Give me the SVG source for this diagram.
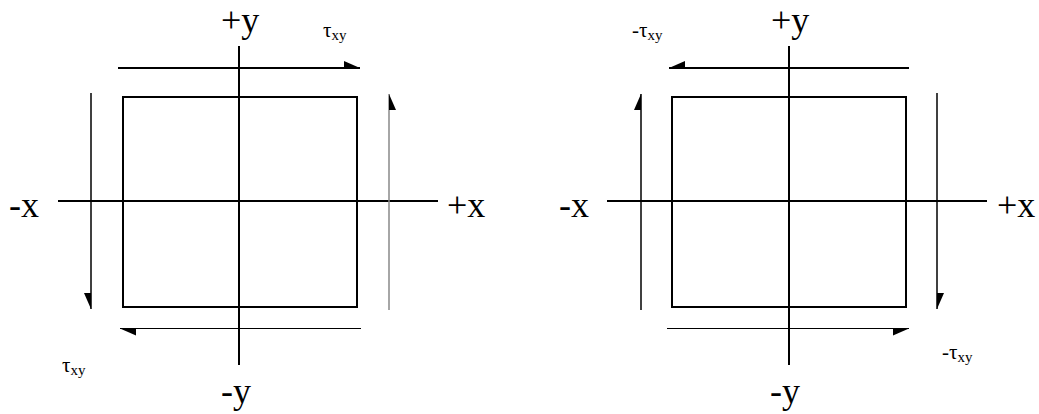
<svg xmlns="http://www.w3.org/2000/svg" width="1039" height="414" viewBox="0 0 1039 414">
  <style>
    .ax { stroke: #000; stroke-width: 2; fill: none; }
    .box { stroke: #000; stroke-width: 2; fill: none; }
    .ar2 { stroke: #000; stroke-width: 2; fill: none; }
    .ar15 { stroke: #000; stroke-width: 1.5; fill: none; }
    .ar1 { stroke: #000; stroke-width: 1; fill: none; }
    .gray { stroke: #888; stroke-width: 1.5; fill: none; }
    .big { font-family: "Liberation Serif", "Times New Roman", serif; font-size: 36px; fill: #000; }
    .tau { font-family: "Liberation Serif", "Times New Roman", serif; font-size: 21px; fill: #000; }
    .sub { font-size: 15px; }
  </style>
  <defs>
    <marker id="halfL" markerUnits="userSpaceOnUse" viewBox="-18 -9 20 18" markerWidth="20" markerHeight="18" refX="0" refY="0" orient="auto">
      <polygon points="0,0 -16,-7 -16,0" fill="#000"/>
    </marker>
    <marker id="halfR" markerUnits="userSpaceOnUse" viewBox="-18 -9 20 18" markerWidth="20" markerHeight="18" refX="0" refY="0" orient="auto">
      <polygon points="0,0 -16,7 -16,0" fill="#000"/>
    </marker>
  </defs>

  <!-- Left element -->
  <g id="left-element">
    <g id="left-box"><rect class="box" x="123" y="97" width="234" height="210"/></g>
    <g id="left-axes">
      <line class="ax" x1="58" y1="201" x2="438" y2="201"/>
      <line class="ax" x1="239" y1="46" x2="239" y2="365"/>
    </g>
    <g id="left-labels">
      <text class="big" x="221" y="32">+y</text>
      <text class="big" x="9" y="217">-x</text>
      <text class="big" x="447" y="217">+x</text>
      <text class="big" x="221" y="403">-y</text>
      <text class="tau" x="323" y="37">τ<tspan class="sub" dy="3">xy</tspan></text>
      <text class="tau" x="62" y="372">τ<tspan class="sub" dy="3">xy</tspan></text>
    </g>
  </g>

  <!-- Right element -->
  <g id="right-element">
    <g id="right-box"><rect class="box" x="672" y="97" width="234" height="210"/></g>
    <g id="right-axes">
      <line class="ax" x1="607" y1="201" x2="987" y2="201"/>
      <line class="ax" x1="789" y1="46" x2="789" y2="365"/>
    </g>
    <g id="right-labels">
      <text class="big" x="771" y="32">+y</text>
      <text class="big" x="559" y="217">-x</text>
      <text class="big" x="997" y="217">+x</text>
      <text class="big" x="770" y="403">-y</text>
      <text class="tau" x="632" y="37">-τ<tspan class="sub" dy="3">xy</tspan></text>
      <text class="tau" x="942" y="359">-τ<tspan class="sub" dy="3">xy</tspan></text>
    </g>
  </g>

  <!-- Connectors (shear arrows) -->
  <g id="connectors">
    <line class="ar2" x1="118" y1="68" x2="360" y2="68" marker-end="url(#halfL)"/>
    <line class="gray" x1="389" y1="310" x2="389" y2="94" marker-end="url(#halfR)"/>
    <line class="ar15" x1="91" y1="93" x2="91" y2="309" marker-end="url(#halfR)"/>
    <line class="ar1" x1="361" y1="328.5" x2="120" y2="328.5" marker-end="url(#halfL)"/>

    <line class="ar2" x1="909" y1="68" x2="669" y2="68" marker-end="url(#halfR)"/>
    <line class="ar15" x1="641" y1="310" x2="641" y2="94" marker-end="url(#halfL)"/>
    <line class="ar15" x1="937" y1="93" x2="937" y2="309" marker-end="url(#halfL)"/>
    <line class="ar1" x1="667" y1="328.5" x2="909" y2="328.5" marker-end="url(#halfR)"/>
  </g>
</svg>
